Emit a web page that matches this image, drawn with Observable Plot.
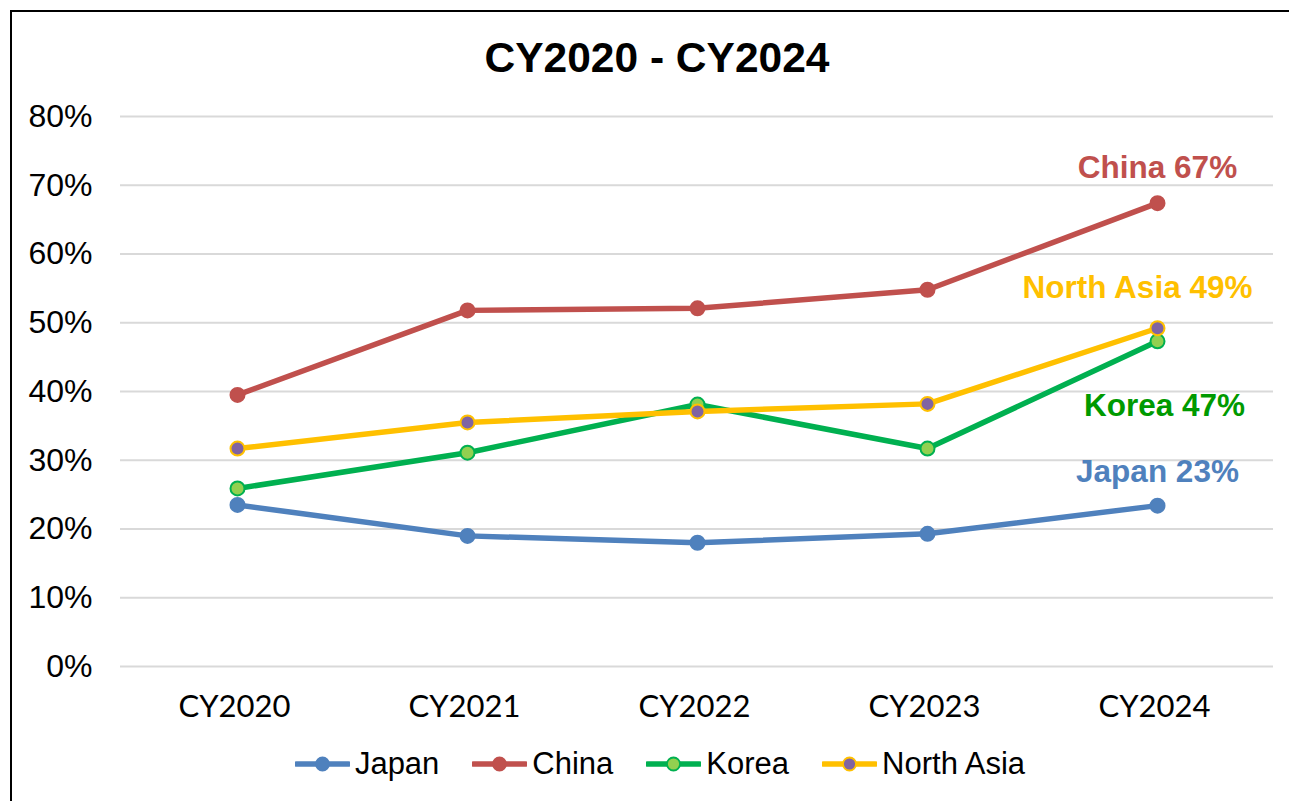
<!DOCTYPE html>
<html>
<head>
<meta charset="utf-8">
<script src="https://cdn.jsdelivr.net/npm/d3@7"></script>
<script src="https://cdn.jsdelivr.net/npm/@observablehq/plot@0.6"></script>
<style>
  html, body { margin: 0; padding: 0; background: #fff; }
  body { width: 1289px; height: 801px; position: relative; overflow: hidden; }
  #frame { position: absolute; left: 10px; top: 10px; width: 1300px; height: 900px;
           border-left: 2.5px solid #000; border-top: 2.5px solid #000; box-sizing: border-box; }
  #title { position: absolute; top: 37px; left: 0; width: 1314px; text-align: center;
           font-family: "Liberation Sans", Arial, sans-serif; font-weight: bold; font-size: 42.5px;
           line-height: 42px; color: #000; }
  #chart { position: absolute; left: 0; top: 80px; }
  #legend { position: absolute; top: 746px; left: 0; width: 1320px; display: flex; justify-content: center;
            gap: 33px; font-family: "Liberation Sans", Arial, sans-serif; font-size: 31px; line-height: 36px; color: #000; }
  .item { display: flex; align-items: center; gap: 5px; }
  .item svg { display: block; }
</style>
</head>
<body>
<div id="frame"></div>
<div id="title">CY2020 - CY2024</div>
<div id="chart"></div>
<div id="legend"></div>
<script>
// ---- data ----
const years = ["CY2020", "CY2021", "CY2022", "CY2023", "CY2024"];
const seriesNames = ["Japan", "China", "Korea", "North Asia"];
const japan     = [0.235, 0.190, 0.180, 0.193, 0.234];
const china     = [0.395, 0.518, 0.521, 0.548, 0.674];
const korea     = [0.259, 0.311, 0.381, 0.317, 0.473];
const northAsia = [0.317, 0.355, 0.371, 0.382, 0.492];
const yTicks = [0, 0.1, 0.2, 0.3, 0.4, 0.5, 0.6, 0.7, 0.8];
const endLabels = ["Japan 23%", "China 67%", "Korea 47%", "North Asia 49%"];

// ---- styles ----
const styles = {
  "Japan":      {line: "#4F81BD", fill: "#4F81BD", stroke: "#4F81BD", label: "#4F81BD", dx: 0,   dy: -34},
  "China":      {line: "#C0504D", fill: "#C0504D", stroke: "#C0504D", label: "#C0504D", dx: 0,   dy: -35},
  "Korea":      {line: "#00B050", fill: "#92D050", stroke: "#00B050", label: "#009A00", dx: 7,   dy: 65},
  "North Asia": {line: "#FFC000", fill: "#8064A2", stroke: "#FFC000", label: "#FFC000", dx: -20, dy: -40}
};

const valuesBy = {"Japan": japan, "China": china, "Korea": korea, "North Asia": northAsia};
const rows = seriesNames.flatMap(s => years.map((yr, i) => ({series: s, year: yr, value: valuesBy[s][i]})));
const lastRows = seriesNames.map((s, k) => ({series: s, year: years[years.length - 1],
  value: valuesBy[s][years.length - 1], label: endLabels[k]}));

const marks = [
  Plot.gridY(yTicks, {stroke: "#D9D9D9", strokeOpacity: 1, strokeWidth: 2}),
  Plot.axisY(yTicks, {tickSize: 0, tickPadding: 28, tickFormat: d3.format(".0%"), label: null,
    fontSize: 32, fontFamily: "Liberation Sans, Arial, sans-serif", fill: "#000"}),
  Plot.axisX({tickSize: 0, tickPadding: 28, label: null, fontSize: 31,
    fontFamily: "Lato, sans-serif", fill: "#000", dx: -3})
];
for (const s of seriesNames) {
  const st = styles[s];
  const data = rows.filter(d => d.series === s);
  marks.push(Plot.line(data, {x: "year", y: "value", stroke: st.line, strokeWidth: 5.5, curve: "linear"}));
  marks.push(Plot.dot(data, {x: "year", y: "value", r: 7, fill: st.fill, stroke: st.stroke, strokeWidth: 2}));
}
for (const s of seriesNames) {
  const st = styles[s];
  marks.push(Plot.text(lastRows.filter(d => d.series === s), {
    x: "year", y: "value", text: "label", fill: st.label, dx: st.dx, dy: st.dy,
    fontSize: 31.5, fontWeight: "bold", fontFamily: "Liberation Sans, Arial, sans-serif", textAnchor: "middle"
  }));
}

const chart = Plot.plot({
  width: 1289,
  height: 660,
  marginTop: 36,
  marginBottom: 74,
  marginLeft: 120,
  marginRight: 16,
  x: {type: "point", domain: years, padding: 0.5},
  y: {domain: [0, 0.8]},
  style: {background: "transparent", overflow: "visible"},
  marks
});
document.getElementById("chart").appendChild(chart);

// ---- legend ----
const legend = document.getElementById("legend");
for (const s of seriesNames) {
  const st = styles[s];
  const item = document.createElement("div");
  item.className = "item";
  item.innerHTML = `<svg width="55" height="20" viewBox="0 0 55 20">
      <line x1="1.5" y1="10" x2="53.5" y2="10" stroke="${st.line}" stroke-width="5.5" stroke-linecap="round"/>
      <circle cx="27.5" cy="10" r="6.5" fill="${st.fill}" stroke="${st.stroke}" stroke-width="1.8"/>
    </svg><span>${s}</span>`;
  legend.appendChild(item);
}
</script>
</body>
</html>
